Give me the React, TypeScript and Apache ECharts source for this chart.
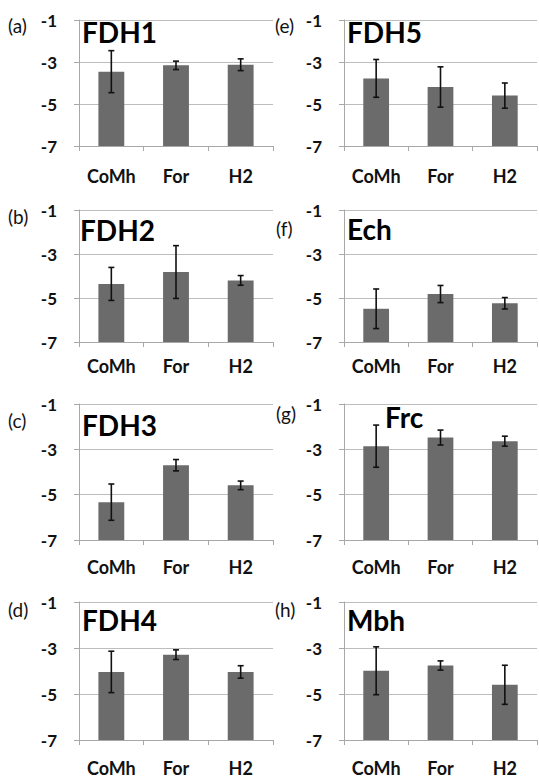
import React, { useEffect, useRef } from "react";
import * as echarts from "echarts";

const CATEGORIES = ["CoMh", "For", "H2"];
const Y_TICKS = [-7, -5, -3, -1];
const BASE = -7;

const PANEL_TAGS = ["(a)", "(b)", "(c)", "(d)", "(e)", "(f)", "(g)", "(h)"];
const PANEL_NAMES = ["FDH1", "FDH2", "FDH3", "FDH4", "FDH5", "Ech", "Frc", "Mbh"];

const FDH1 = [-3.46, -3.16, -3.13];
const FDH1_ERR = [1.0, 0.2, 0.28];
const FDH2 = [-4.36, -3.82, -4.2];
const FDH2_ERR = [0.75, 1.2, 0.22];
const FDH3 = [-5.33, -3.7, -4.59];
const FDH3_ERR = [0.8, 0.25, 0.19];
const FDH4 = [-4.04, -3.29, -4.04];
const FDH4_ERR = [0.9, 0.21, 0.27];
const FDH5 = [-3.78, -4.19, -4.6];
const FDH5_ERR = [0.9, 0.96, 0.6];
const ECH = [-5.49, -4.82, -5.24];
const ECH_ERR = [0.9, 0.39, 0.26];
const FRC = [-2.86, -2.48, -2.64];
const FRC_ERR = [0.93, 0.33, 0.22];
const MBH = [-3.99, -3.76, -4.6];
const MBH_ERR = [1.04, 0.2, 0.85];

const VALUES = [FDH1, FDH2, FDH3, FDH4, FDH5, ECH, FRC, MBH];
const ERRORS = [FDH1_ERR, FDH2_ERR, FDH3_ERR, FDH4_ERR, FDH5_ERR, ECH_ERR, FRC_ERR, MBH_ERR];

// layout
const COL_LEFT = [79, 344];
const COL_WIDTH = [194, 193];
const ROW_TOP = [20, 210, 404, 602];
const ROW_BOTTOM = [146, 342, 540, 740];
const ROW_LABEL_MARGIN = [21, 15, 18, 19];
const TAG_POS = [
  [8, 27], [8, 218], [8, 422], [8, 611],
  [275, 27], [276, 230], [276, 415], [275, 611],
];
const NAME_POS = [
  [82, 35], [80, 233], [82, 428], [82, 623],
  [347, 35], [347, 232], [385, 420], [347, 623],
];

const FONT = "Lato, 'Open Sans', 'Liberation Sans', sans-serif";

export default function App() {
  const ref = useRef<HTMLDivElement>(null);
  useEffect(() => {
    if (!ref.current) return;
    const chart = echarts.init(ref.current, null, { renderer: "svg" });
    const grids: any[] = [];
    const xAxes: any[] = [];
    const yAxes: any[] = [];
    const series: any[] = [];
    const graphics: any[] = [];
    for (let p = 0; p < 8; p++) {
      const col = Math.floor(p / 4);
      const row = p % 4;
      grids.push({
        left: COL_LEFT[col],
        width: COL_WIDTH[col],
        top: ROW_TOP[row],
        height: ROW_BOTTOM[row] - ROW_TOP[row],
        containLabel: false,
      });
      xAxes.push({
        type: "category",
        gridIndex: p,
        data: CATEGORIES,
        axisLine: { show: true, lineStyle: { color: "#a8a8a8", width: 1 } },
        axisTick: { show: true, length: 5, alignWithLabel: false, lineStyle: { color: "#a8a8a8" } },
        axisLabel: {
          interval: 0,
          margin: ROW_LABEL_MARGIN[row],
          fontFamily: FONT,
          fontWeight: "bold",
          fontSize: 18,
          color: "#111",
        },
        splitLine: { show: false },
      });
      yAxes.push({
        type: "value",
        gridIndex: p,
        min: Y_TICKS[0] - BASE,
        max: Y_TICKS[Y_TICKS.length - 1] - BASE,
        interval: 2,
        axisLine: { show: true, lineStyle: { color: "#a8a8a8", width: 1 } },
        axisTick: { show: true, length: 5, lineStyle: { color: "#a8a8a8" } },
        axisLabel: {
          margin: 22,
          fontFamily: FONT,
          fontWeight: "bold",
          fontSize: 17,
          color: "#111",
          formatter: (v: number) => String(v + BASE),
        },
        splitLine: { show: true, lineStyle: { color: "#bdbdbd", width: 1 } },
      });
      const vals = VALUES[p];
      const errs = ERRORS[p];
      series.push({
        type: "bar",
        xAxisIndex: p,
        yAxisIndex: p,
        data: vals.map((v) => v - BASE),
        barWidth: "40%",
        itemStyle: { color: "#6b6b6b" },
        silent: true,
      });
      series.push({
        type: "custom",
        xAxisIndex: p,
        yAxisIndex: p,
        z: 5,
        data: vals.map((v, i) => [i, v - BASE, errs[i]]),
        encode: { x: 0, y: 1 },
        renderItem: (params: any, api: any) => {
          const i = api.value(0);
          const v = api.value(1);
          const e = api.value(2);
          const top = api.coord([i, v + e]);
          const bot = api.coord([i, v - e]);
          const cap = 3;
          const style = { stroke: "#111", lineWidth: 1.6 };
          return {
            type: "group",
            children: [
              { type: "line", shape: { x1: top[0], y1: top[1], x2: bot[0], y2: bot[1] }, style },
              { type: "line", shape: { x1: top[0] - cap, y1: top[1], x2: top[0] + cap, y2: top[1] }, style },
              { type: "line", shape: { x1: bot[0] - cap, y1: bot[1], x2: bot[0] + cap, y2: bot[1] }, style },
            ],
          };
        },
      });
      graphics.push({
        type: "text",
        left: TAG_POS[p][0],
        top: TAG_POS[p][1] - 11,
        style: {
          text: PANEL_TAGS[p],
          fontFamily: FONT,
          fontSize: 19,
          fill: "#111",
        },
      });
      graphics.push({
        type: "text",
        left: NAME_POS[p][0],
        top: NAME_POS[p][1] - 17,
        z: 10,
        style: {
          text: PANEL_NAMES[p],
          fontFamily: FONT,
          fontWeight: "bold",
          fontSize: 28,
          fill: "#000",
        },
      });
    }
    chart.setOption({
      animation: false,
      backgroundColor: "#ffffff",
      grid: grids,
      xAxis: xAxes,
      yAxis: yAxes,
      series,
      graphic: graphics,
    });
    return () => chart.dispose();
  }, []);
  return (
    <div
      ref={ref}
      style={{ position: "fixed", left: 0, top: 0, width: 539, height: 778, background: "#fff" }}
    />
  );
}
